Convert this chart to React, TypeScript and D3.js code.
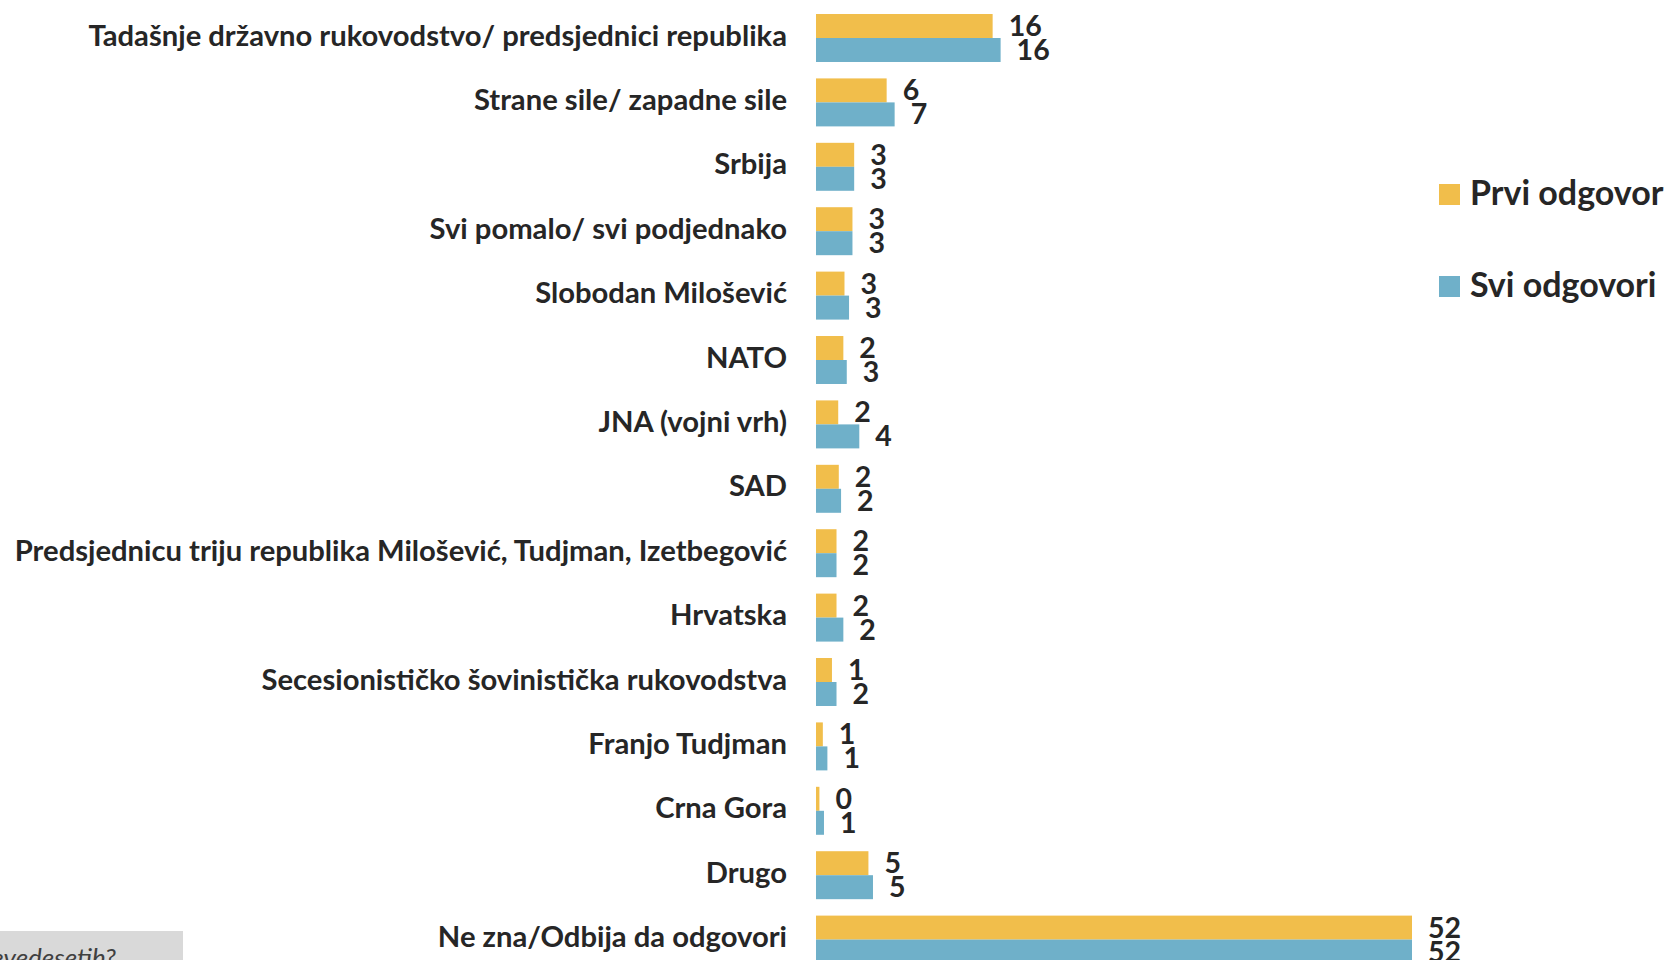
import React from "react";
import * as d3 from "d3";

const categories = [
  "Tadašnje državno rukovodstvo/ predsjednici republika",
  "Strane sile/ zapadne sile",
  "Srbija",
  "Svi pomalo/ svi podjednako",
  "Slobodan Milošević",
  "NATO",
  "JNA (vojni vrh)",
  "SAD",
  "Predsjednicu triju republika Milošević, Tudjman, Izetbegović",
  "Hrvatska",
  "Secesionističko šovinistička rukovodstva",
  "Franjo Tudjman",
  "Crna Gora",
  "Drugo",
  "Ne zna/Odbija da odgovori",
];

const seriesNames = ["Prvi odgovor", "Svi odgovori"];
const prviOdgovor = [15.5, 6.2, 3.35, 3.2, 2.5, 2.4, 1.95, 2.0, 1.8, 1.8, 1.4, 0.6, 0.3, 4.6, 52.3];
const sviOdgovori = [16.2, 6.9, 3.35, 3.2, 2.9, 2.7, 3.8, 2.2, 1.8, 2.4, 1.8, 1.0, 0.7, 5.0, 52.3];
const prviLabels = ["16", "6", "3", "3", "3", "2", "2", "2", "2", "2", "1", "1", "0", "5", "52"];
const sviLabels = ["16", "7", "3", "3", "3", "3", "4", "2", "2", "2", "2", "1", "1", "5", "52"];
const footnote = "devedesetih?";

const colors = ["#F1BE4B", "#6FB0C9"];
const textColor = "#262626";
const FONT = "Lato, 'Open Sans', sans-serif";

export default function App() {
  const width = 1668;
  const height = 960;
  const x0 = 816;

  const x = d3.scaleLinear().domain([0, 52.3]).range([0, 596]);
  const y = d3
    .scaleBand<string>()
    .domain(categories)
    .range([5.8, 5.8 + categories.length * 64.4])
    .paddingInner(0.255)
    .paddingOuter(0.1275);
  const inner = d3.scaleBand<string>().domain(seriesNames).range([0, y.bandwidth()]);

  const series = [prviOdgovor, sviOdgovori];
  const labels = [prviLabels, sviLabels];

  return (
    <div style={{ position: "absolute", left: 0, top: 0, width, height, overflow: "hidden", background: "#fff" }}>
      <svg width={width} height={height} style={{ display: "block" }}>
        {categories.map((c, i) => {
          const by = y(c)!;
          const cy = by + y.bandwidth() / 2;
          return (
            <g key={c}>
              <text
                x={787}
                y={cy + 7.5}
                textAnchor="end"
                fontFamily={FONT}
                fontWeight={700}
                fontSize={29.2}
                fill={textColor}
              >
                {c}
              </text>
              {series.map((s, k) => {
                const yy = by + inner(seriesNames[k])!;
                const w = x(s[i]);
                return (
                  <g key={k}>
                    <rect x={x0} y={yy} width={w} height={inner.bandwidth()} fill={colors[k]} />
                    <text
                      x={x0 + w + 16}
                      y={yy + inner.bandwidth() - 2}
                      fontFamily={FONT}
                      fontWeight={700}
                      fontSize={28.5}
                      fill={textColor}
                    >
                      {labels[k][i]}
                    </text>
                  </g>
                );
              })}
            </g>
          );
        })}
        {seriesNames.map((n, k) => (
          <g key={n} transform={`translate(1439, ${184 + k * 92})`}>
            <rect x={0} y={0} width={21} height={21} fill={colors[k]} />
            <text x={31} y={21} fontFamily={FONT} fontWeight={700} fontSize={34} fill={textColor}>
              {n}
            </text>
          </g>
        ))}
        <rect x={0} y={931} width={183} height={40} fill="#D9D9D9" />
        <text x={116} y={967} textAnchor="end" fontFamily={FONT} fontStyle="italic" fontSize={26} fill="#404040">
          {footnote}
        </text>
      </svg>
    </div>
  );
}
